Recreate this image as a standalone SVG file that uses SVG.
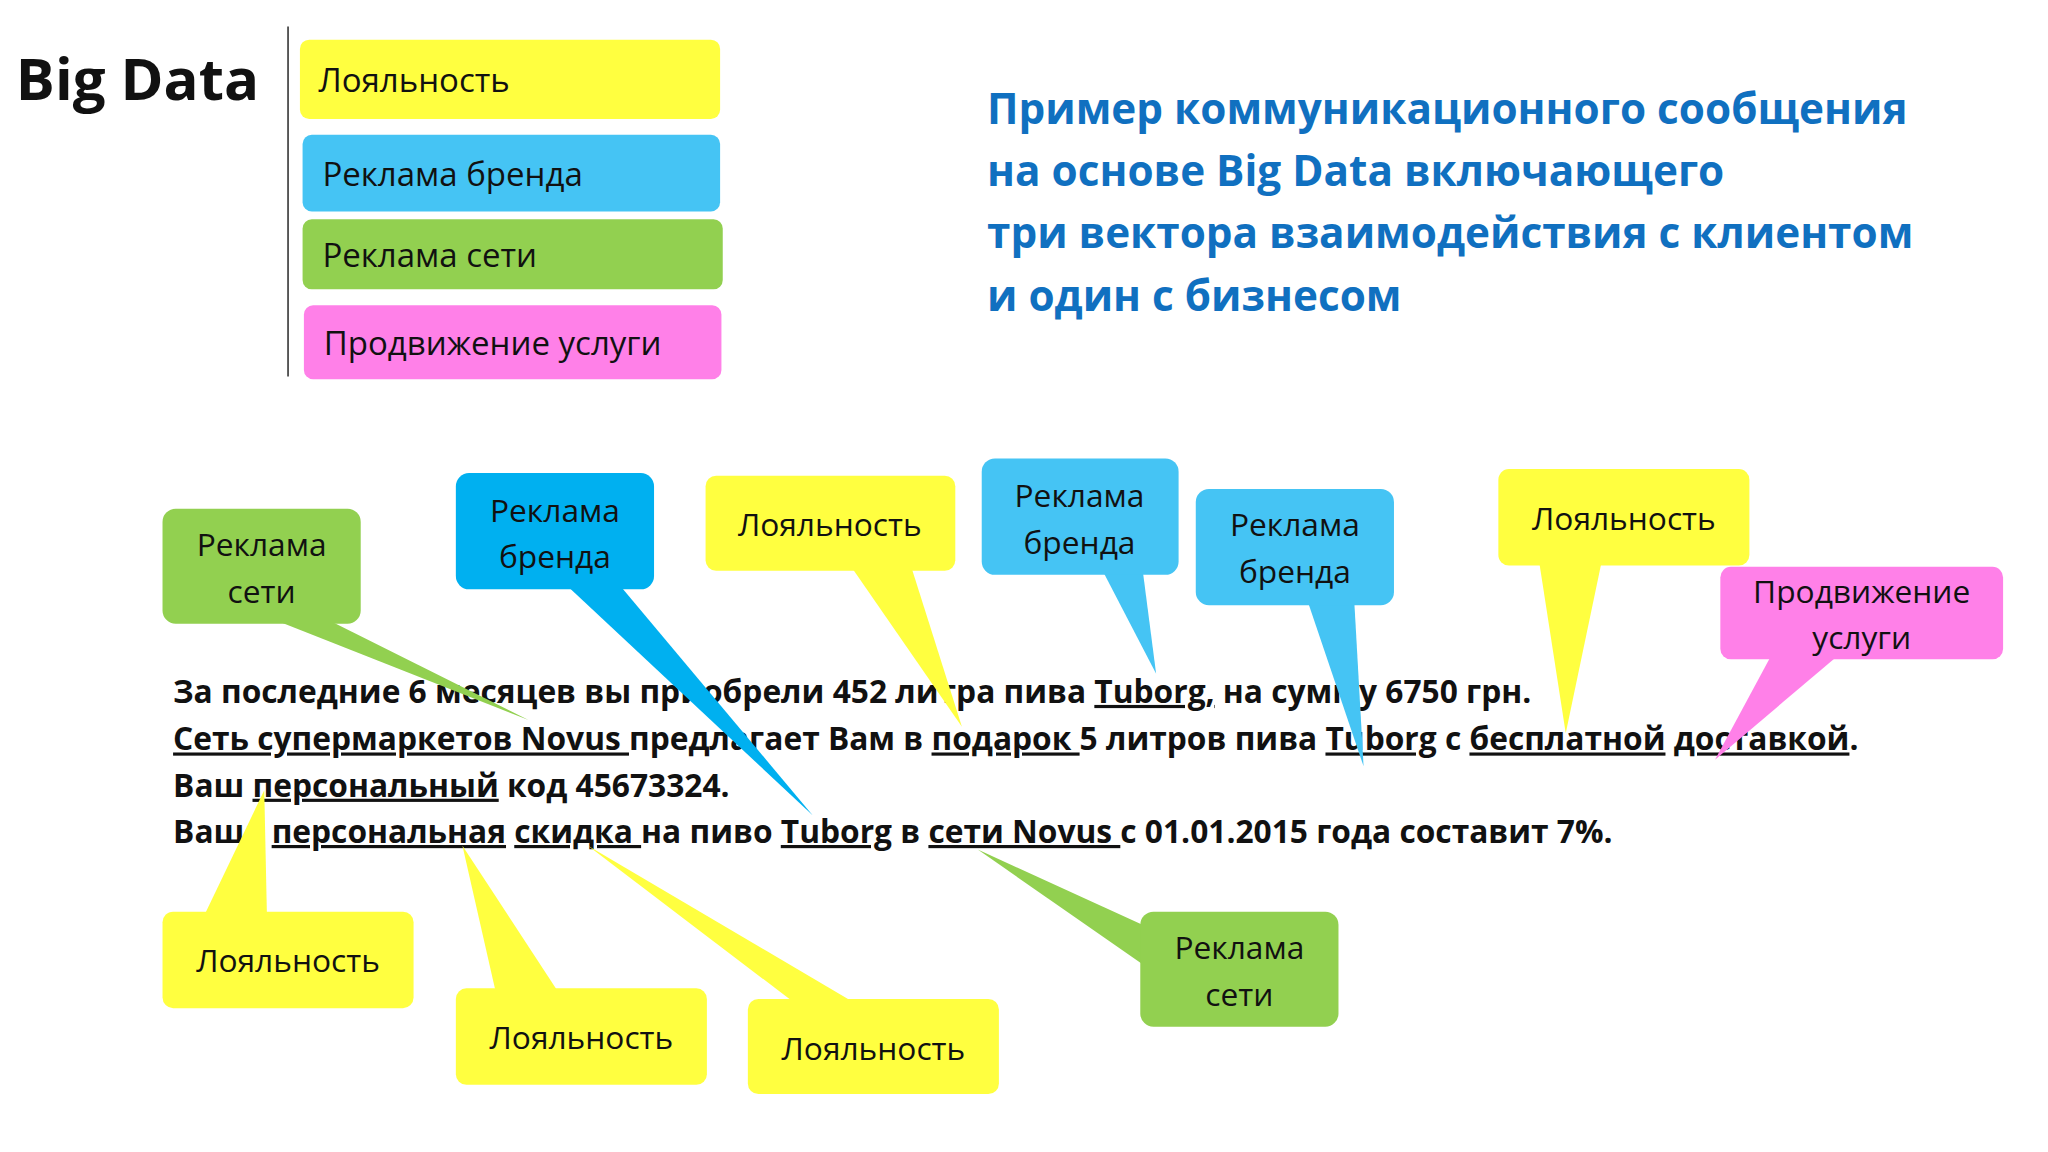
<svg xmlns="http://www.w3.org/2000/svg" width="2048" height="1152" viewBox="0 0 2048 1152">
<style>
.t{font-family:"Open Sans","Noto Sans",sans-serif;font-size:24px;fill:#111}
.c{text-anchor:middle}
.b{font-weight:bold}
.u{text-decoration:underline}
.y{fill:#FFFF40}.cy{fill:#45C4F4}.bl{fill:#00B0F0}.g{fill:#92D050}.p{fill:#FF80E8}
</style>
<rect width="2048" height="1152" fill="#fff"/>
<g transform="scale(1.3213)">
<g id="title">
<text x="12" y="76" class="t b" style="font-size:44px">Big Data</text>
<line x1="218" y1="20" x2="218" y2="285" stroke="#333" stroke-width="1.2"/>
<text x="747" y="94" class="t b" style="font-size:32px;fill:#1070C0">Пример коммуникационного сообщения</text>
<text x="747" y="141" class="t b" style="font-size:32px;fill:#1070C0">на основе Big Data включающего</text>
<text x="747" y="188" class="t b" style="font-size:32px;fill:#1070C0">три вектора взаимодействия с клиентом</text>
<text x="747" y="235" class="t b" style="font-size:32px;fill:#1070C0">и один с бизнесом</text>
</g>
<g id="legend">
<rect class="y" x="227" y="30" width="318" height="60" rx="7"/><text x="241" y="70" class="t" style="font-size:25px">Лояльность</text>
<rect class="cy" x="229" y="102" width="316" height="58" rx="7"/><text x="244" y="141" class="t" style="font-size:25px">Реклама бренда</text>
<rect class="g" x="229" y="166" width="318" height="53" rx="7"/><text x="244" y="202" class="t" style="font-size:25px">Реклама сети</text>
<rect class="p" x="230" y="231" width="316" height="56" rx="7"/><text x="245" y="269" class="t" style="font-size:25px">Продвижение услуги</text>
</g>
<g id="message" class="t b">
<text x="131" y="532">За последние 6 месяцев вы приобрели 452 литра пива <tspan class="u">Tuborg,</tspan> на сумму 6750 грн.</text>
<text x="131" y="568"><tspan class="u">Сеть супермаркетов Novus </tspan>предлагает Вам в <tspan class="u">подарок </tspan>5 литров пива <tspan class="u">Tuborg</tspan> с <tspan class="u">бесплатной</tspan> <tspan class="u">доставкой</tspan>.</text>
<text x="131" y="603">Ваш <tspan class="u">персональный</tspan> код 45673324.</text>
<text x="131" y="638">Ваша <tspan class="u">персональная</tspan> <tspan class="u">скидка </tspan> на пиво <tspan class="u">Tuborg</tspan> в <tspan class="u">сети Novus </tspan>с 01.01.2015 года составит 7%.</text>
</g>
<g id="connectors">
<polygon class="g" points="210,470 250,470 400,545"/>
<polygon class="bl" points="430,444 470,444 615,617"/>
<polygon class="y" points="645,430 690,430 728,550"/>
<polygon class="cy" points="835,433 865,433 875,510"/>
<polygon class="cy" points="990,456 1025,456 1032,580"/>
<polygon class="y" points="1165,426 1212,426 1185,555"/>
<polygon class="p" points="1340,497 1390,497 1298,575"/>
<polygon class="y" points="155,692 202,692 200,598"/>
<polygon class="y" points="375,750 422,750 350,640"/>
<polygon class="y" points="600,758 645,758 445,640"/>
<polygon class="g" points="865,700 865,730 740,643"/>
</g>
<g id="c1"><rect class="g" x="123" y="385" width="150" height="87" rx="10"/><text x="198" y="421" class="t c">Реклама</text><text x="198" y="456" class="t c">сети</text></g>
<g id="c2"><rect class="bl" x="345" y="358" width="150" height="88" rx="10"/><text x="420" y="395" class="t c">Реклама</text><text x="420" y="430" class="t c">бренда</text></g>
<g id="c3"><rect class="y" x="534" y="360" width="189" height="72" rx="8"/><text x="628" y="406" class="t c">Лояльность</text></g>
<g id="c4"><rect class="cy" x="743" y="347" width="149" height="88" rx="10"/><text x="817" y="384" class="t c">Реклама</text><text x="817" y="419" class="t c">бренда</text></g>
<g id="c5"><rect class="cy" x="905" y="370" width="150" height="88" rx="10"/><text x="980" y="406" class="t c">Реклама</text><text x="980" y="441" class="t c">бренда</text></g>
<g id="c6"><rect class="y" x="1134" y="355" width="190" height="73" rx="8"/><text x="1229" y="401" class="t c">Лояльность</text></g>
<g id="c7"><rect class="p" x="1302" y="429" width="214" height="70" rx="8"/><text x="1409" y="456" class="t c">Продвижение</text><text x="1409" y="491" class="t c">услуги</text></g>
<g id="c8"><rect class="y" x="123" y="690" width="190" height="73" rx="8"/><text x="218" y="736" class="t c">Лояльность</text></g>
<g id="c9"><rect class="y" x="345" y="748" width="190" height="73" rx="8"/><text x="440" y="794" class="t c">Лояльность</text></g>
<g id="c10"><rect class="y" x="566" y="756" width="190" height="72" rx="8"/><text x="661" y="802" class="t c">Лояльность</text></g>
<g id="c11"><rect class="g" x="863" y="690" width="150" height="87" rx="10"/><text x="938" y="726" class="t c">Реклама</text><text x="938" y="761" class="t c">сети</text></g>
</g>
</svg>
